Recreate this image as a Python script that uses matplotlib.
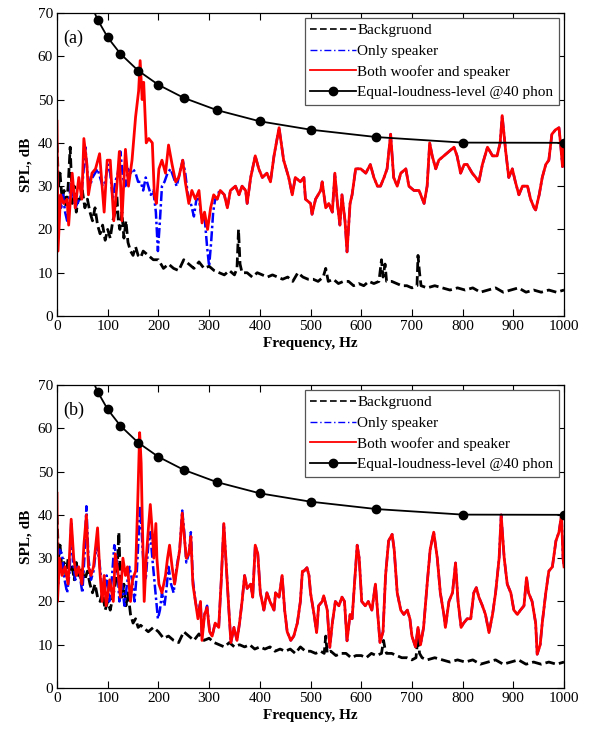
import numpy as np
import matplotlib
matplotlib.use("Agg")
import matplotlib.pyplot as plt

plt.rcParams['font.family'] = ['Liberation Serif', 'DejaVu Serif']
plt.rcParams['mathtext.fontset'] = 'stix'

# ---------------- Equal-loudness contour, 40 phon ----------------
ell_f = [63, 80, 100, 125, 160, 200, 250, 315, 400, 500, 630, 800, 1000]
ell_v = [73.08, 68.48, 64.37, 60.59, 56.70, 53.41, 50.40, 47.58, 44.98, 43.05, 41.34, 40.06, 40.01]

# ---------------- Panel (a) ----------------
a_red_f = [0, 2, 7, 13, 20, 23, 30, 36, 43, 49, 53, 59, 62, 69, 76, 84, 89, 93, 99, 105, 112, 118, 123,
           128, 135, 141, 148, 155, 161, 164, 168, 171, 176, 181, 188, 192, 196, 201, 207, 214, 220, 227,
           234, 240, 248, 253, 260, 266, 273, 280, 286, 291, 297, 303, 309, 316, 322, 330, 336, 342, 352,
           359, 365, 372, 375, 382, 391, 398, 405, 414, 421, 428, 438, 447, 457, 464, 470, 480, 487, 490,
           500, 503, 510, 520, 523, 530, 536, 543, 548, 553, 558, 562, 568, 572, 578, 582, 589, 599, 609,
           618, 625, 632, 638, 645, 651, 658, 664, 671, 678, 688, 694, 704, 714, 724, 730, 735, 740, 747,
           753, 763, 773, 783, 789, 796, 803, 809, 819, 826, 832, 839, 849, 859, 868, 874, 878, 885, 891,
           898, 904, 911, 918, 928, 934, 941, 944, 951, 957, 964, 970, 976, 983, 990, 993, 997, 1000]
a_red_v = [45, 15, 28, 26, 27, 21, 33, 25, 32, 27, 41, 35, 28, 33, 34, 37.5, 30, 24, 36, 36, 22, 30, 38,
           22, 38.5, 30, 36, 46, 52, 59, 50, 54, 40, 41, 40, 28, 26, 34, 36, 33, 39.5, 35,
           31, 32, 36, 31, 26, 29, 27, 29, 21.5, 24, 20, 25, 28, 27, 29, 28, 25, 29, 30,
           28, 30, 29, 26, 32, 37, 34, 32, 33, 31, 37, 43.5, 36, 32, 28, 32, 31, 32, 27,
           26, 23.5, 27, 29, 31, 25, 26, 24, 33, 26, 21, 28, 22, 14.8, 26, 28, 34, 34, 33,
           35, 32, 30, 30, 32, 34, 42, 32, 30, 33, 34, 30, 29, 29, 26, 30, 40, 37, 34,
           36, 37, 38, 39, 37, 33, 35, 35, 33, 32, 31, 35, 39, 37, 37, 40, 46.3, 38, 32,
           34, 31, 28, 30, 30, 27, 25, 24.5, 28, 32, 35, 36, 42, 43, 43.5, 40, 34.5, 40]

a_blue_lo_f = [0, 2, 5, 8, 12, 16, 20, 24, 28, 32, 36, 40, 44, 48, 52, 56, 60, 65, 70, 75, 80, 85, 90, 95,
               100, 105, 110, 115, 120, 125, 130, 135, 140, 145, 150, 155, 160, 165, 170, 175, 180, 185,
               190, 195, 199, 203, 207, 212, 218, 224, 230, 236, 242, 248, 253, 258, 264, 270, 275, 280,
               286, 291, 296, 300, 304, 308, 312, 316, 320]
a_blue_lo_v = [32, 20, 28, 25, 28, 24, 22, 27, 31, 28, 25, 26, 27, 28, 33, 39, 33, 30, 32, 33, 34, 32, 30, 31,
               35, 33, 27, 31, 33, 38, 32, 30, 34, 33, 34, 33, 31, 31, 29, 32, 30, 28,
               29, 24, 15, 22, 30, 31, 33, 34, 32, 30, 33, 36, 33, 28, 26, 23, 27, 27,
               22, 23, 16, 11.5, 17, 24, 27, 27, 29]

a_bg_f = [0, 3, 6, 10, 14, 18, 22, 26, 28, 30, 34, 38, 42, 46, 50, 55, 60, 65, 70, 75, 80, 85, 90, 95, 100,
          105, 110, 115, 118, 121, 124, 128, 132, 136, 140, 145, 150, 155, 160, 165, 170, 180, 190, 200,
          210, 220, 230, 240, 250, 260, 270, 280, 290, 300, 310, 320, 330, 340, 350, 355, 358, 361, 365,
          375, 385, 395, 405, 415, 425, 435, 445, 455, 465, 475, 485, 495, 505, 515, 525, 530, 535, 545,
          555, 565, 575, 585, 595, 605, 615, 625, 635, 640, 643, 647, 650, 660, 670, 680, 690, 700, 710,
          712, 715, 718, 730, 745, 760, 775, 790, 805, 820, 835, 850, 865, 880, 895, 910, 925, 940, 955,
          970, 985, 1000]
a_bg_v = [40, 30, 33, 27, 29, 25, 30, 39, 33, 26, 30, 24, 27, 27, 29, 25, 27, 24, 22, 25, 21, 19, 21, 17.5, 20,
          18, 22, 24, 28, 22, 20, 24, 18, 22, 17, 15, 14, 16, 14, 13.5, 15, 14, 13, 13,
          11, 12, 11, 10.5, 13, 12, 11, 12.5, 11, 11.5, 10.5, 10, 9.5, 10.5, 9.5, 11, 20, 12, 10,
          10, 9, 10, 9.5, 9, 9.5, 9, 8.5, 9, 8, 10, 9, 8.5, 8.5, 8, 9, 11, 8, 8.5,
          7.5, 8, 8, 7, 7.5, 7, 8, 7.5, 8, 13, 9, 12, 8, 8, 7.5, 7, 7, 6.5, 7,
          14, 10, 7, 6.5, 7, 6.5, 6, 6.5, 6, 6.5, 5.5, 6, 6.5, 5.5, 6, 6.5, 5.5, 6, 5.5,
          6, 5.5, 6]

# ---------------- Panel (b) ----------------
b_red_f = [0, 1, 5, 10, 16, 22, 28, 33, 38, 43, 49, 53, 58, 62, 67, 72, 80, 84, 89, 93, 97, 104, 111, 115,
           120, 125, 130, 135, 139, 145, 149, 155, 159, 163, 166, 168, 172, 176, 181, 184, 188, 191, 195,
           197, 201, 207, 214, 218, 222, 227, 232, 237, 242, 247, 251, 255, 260, 264, 268, 273, 278, 283,
           286, 291, 296, 301, 306, 312, 319, 324, 329, 333, 339, 343, 349, 355, 360, 365, 370, 375, 382,
           386, 391, 396, 401, 408, 414, 420, 428, 431, 438, 444, 449, 454, 461, 467, 474, 480, 484, 487,
           493, 497, 500, 507, 512, 516, 523, 526, 533, 538, 543, 549, 556, 562, 567, 572, 578, 582, 589,
           592, 596, 601, 608, 614, 621, 628, 632, 637, 643, 648, 654, 661, 665, 671, 678, 684, 691, 696,
           700, 707, 712, 717, 723, 730, 736, 743, 750, 756, 763, 766, 773, 780, 786, 791, 797, 802, 809,
           816, 822, 827, 832, 839, 845, 852, 859, 865, 872, 876, 882, 888, 895, 901, 908, 914, 921, 926,
           930, 937, 944, 947, 953, 957, 964, 970, 977, 984, 990, 995, 998, 1000]
b_red_v = [45, 20, 30, 26, 28, 24, 39, 30, 26, 28, 24, 33, 40, 28, 26, 28, 37, 28, 20, 26, 19, 25, 20, 31,
           27, 21, 30, 26, 28, 20, 25, 27, 42, 59, 52, 40, 20, 30, 38, 42.4, 36, 30, 38,
           30, 24, 22, 26, 30, 33, 28, 24, 28, 32, 40.4, 35, 30, 31, 35, 24, 20, 16, 20,
           11, 17, 18.6, 13, 12, 15, 14, 25, 38, 30, 18, 10.5, 14, 11, 15, 20, 26, 23, 24,
           21, 33, 31, 22, 18, 22, 20, 18, 22, 21, 26, 18, 13, 11, 12, 15, 20, 27, 27,
           27.8, 26, 22, 17, 12.8, 19, 20, 21.3, 18, 9.4, 15, 20, 19, 21, 20, 10.9, 17, 16, 28,
           33, 30, 20, 19, 20, 18, 24, 18, 10.5, 13, 26, 34, 35.5, 32, 22, 18, 17, 18, 16,
           12, 9.5, 14, 10, 14, 24, 32, 36, 30, 22, 17, 14, 20, 22, 28.9, 20, 14, 15, 16,
           16, 22, 23.2, 21, 19, 17, 12.8, 17, 22, 30, 40, 30, 24, 22, 18, 17, 18, 19, 25.5,
           22, 20, 15, 7.8, 10, 15, 22, 27, 28, 34, 36, 40, 30, 28]

b_blue_lo_f = [0, 2, 5, 10, 15, 20, 25, 28, 32, 36, 40, 45, 50, 54, 58, 62, 67, 72, 78, 83, 88, 93, 98, 103,
               108, 113, 118, 123, 128, 133, 138, 143, 148, 153, 157, 161, 164, 167, 171, 175, 180, 184,
               188, 192, 196, 199, 203, 207, 212, 216, 220, 225, 230, 236, 242, 247, 251, 255, 260, 264,
               268, 273, 278, 283, 286, 291, 296, 301, 306, 312, 319, 324]
b_blue_lo_v = [30, 24, 32, 31, 25, 22, 27, 38, 29, 25, 28, 26, 22, 30, 42, 30, 25, 27, 33, 30, 24, 22, 26, 20,
               25, 33, 30, 20, 24, 19, 24, 28, 25, 20, 26, 35, 42, 36, 28, 25, 33, 36,
               30, 25, 20, 16, 18, 22, 19, 23, 28, 24, 22, 28, 32, 41, 36, 29, 31, 36,
               25, 20, 17, 20, 12, 17, 19, 13, 12, 15, 14, 25]

b_bg_f = [0, 3, 6, 10, 14, 18, 22, 26, 30, 34, 38, 42, 46, 50, 55, 60, 65, 70, 75, 80, 85, 90, 95, 100,
          105, 110, 115, 119, 122, 125, 128, 132, 136, 140, 145, 150, 155, 160, 165, 170, 180, 190, 200,
          210, 220, 230, 240, 250, 260, 270, 280, 290, 300, 310, 320, 330, 340, 350, 360, 370, 380, 390,
          400, 410, 420, 430, 440, 450, 460, 470, 480, 490, 500, 510, 520, 527, 530, 533, 540, 550, 560,
          570, 580, 590, 600, 610, 620, 630, 640, 644, 647, 650, 660, 670, 680, 690, 700, 708, 712, 715,
          720, 730, 745, 760, 775, 790, 805, 820, 835, 850, 865, 880, 895, 910, 925, 940, 955, 970, 985,
          1000]
b_bg_v = [40, 30, 33, 27, 29, 26, 30, 27, 28, 25, 29, 26, 28, 27, 25, 27, 24, 22, 24, 21, 20, 22, 18, 20,
          18, 21, 24, 28, 36, 25, 21, 24, 19, 22, 17, 15, 16, 14, 14.5, 14, 13, 14, 13,
          11.5, 12, 11, 10.5, 13, 12, 11, 12.5, 11, 11.5, 10.5, 10, 9.5, 10.5, 9.5, 10, 9.5, 10, 9,
          9.5, 9, 9.5, 8.5, 9, 8.5, 9, 8, 9.5, 8.5, 8.5, 8, 8.5, 8, 12, 8, 8.5, 7.5, 8,
          8, 7, 7.5, 7.5, 7, 8, 7.5, 8, 11, 9, 8, 8, 7.5, 7, 7, 6.5, 7, 12, 8,
          7, 6.5, 7, 6.5, 6, 6.5, 6, 6.5, 5.5, 6, 6.5, 5.5, 6, 6.5, 5.5, 6, 5.5, 6, 5.5,
          6]

labels = ["Backgruond", "Only speaker", "Both woofer and speaker", "Equal-loudness-level @40 phon"]


def speaker_series(lo_f, lo_v, red_f, red_v, cut):
    """Speaker-only response: own readings below `cut`, coincident with the combined curve above."""
    f = list(lo_f) + [x for x in red_f if x > cut]
    v = list(lo_v) + [y for x, y in zip(red_f, red_v) if x > cut]
    return f, v


def draw_panel(ax, tag, red_f, red_v, blue_f, blue_v, bg_f, bg_v):
    h_bg, = ax.plot(bg_f, bg_v, color='black', lw=2.0, linestyle=(0, (3.5, 1.5)))
    h_blue, = ax.plot(blue_f, blue_v, color='blue', lw=1.8, linestyle=(0, (4, 1.2, 1, 1.2)))
    h_red, = ax.plot(red_f, red_v, color='red', lw=2.0)
    h_ell, = ax.plot(ell_f, ell_v, color='black', lw=1.3, marker='o', markersize=6)
    ax.set_xlim(0, 1000)
    ax.set_ylim(0, 70)
    ax.set_xticks(np.arange(0, 1001, 100))
    ax.set_yticks(np.arange(0, 71, 10))
    ax.tick_params(direction='in', top=True, right=True, length=5, width=0.8, labelsize=11, pad=3)
    for s in ax.spines.values():
        s.set_linewidth(0.9)
    ax.set_xlabel("Frequency, Hz", fontsize=11, fontweight='bold', labelpad=3)
    ax.set_ylabel("SPL, dB", fontsize=11, fontweight='bold', labelpad=4)
    ax.text(0.012, 0.915, tag, transform=ax.transAxes, fontsize=13, va='center', ha='left')
    # thinner copies of the styles for the legend keys
    k_bg, = ax.plot([], [], color='black', lw=1.2, linestyle=(0, (4, 2)))
    k_blue, = ax.plot([], [], color='blue', lw=1.0, linestyle=(0, (5, 2, 1, 2)))
    k_red, = ax.plot([], [], color='red', lw=1.3)
    leg = ax.legend([k_bg, k_blue, k_red, h_ell], labels, loc='upper right', fontsize=11,
                    frameon=True, fancybox=False, framealpha=1, edgecolor='#555555',
                    handlelength=3.0, handletextpad=0.1, labelspacing=0.45,
                    borderpad=0.35, borderaxespad=0.35)
    leg.get_frame().set_linewidth(0.9)


fig = plt.figure(figsize=(5.9, 7.31), dpi=100)
ax_a = fig.add_axes([0.0966, 0.5677, 0.8594, 0.4145])
ax_b = fig.add_axes([0.0966, 0.0588, 0.8594, 0.4145])

a_blue_f, a_blue_v = speaker_series(a_blue_lo_f, a_blue_lo_v, a_red_f, a_red_v, 320)
b_blue_f, b_blue_v = speaker_series(b_blue_lo_f, b_blue_lo_v, b_red_f, b_red_v, 324)

draw_panel(ax_a, "(a)", a_red_f, a_red_v, a_blue_f, a_blue_v, a_bg_f, a_bg_v)
draw_panel(ax_b, "(b)", b_red_f, b_red_v, b_blue_f, b_blue_v, b_bg_f, b_bg_v)

fig.savefig("out.png", dpi=100)
